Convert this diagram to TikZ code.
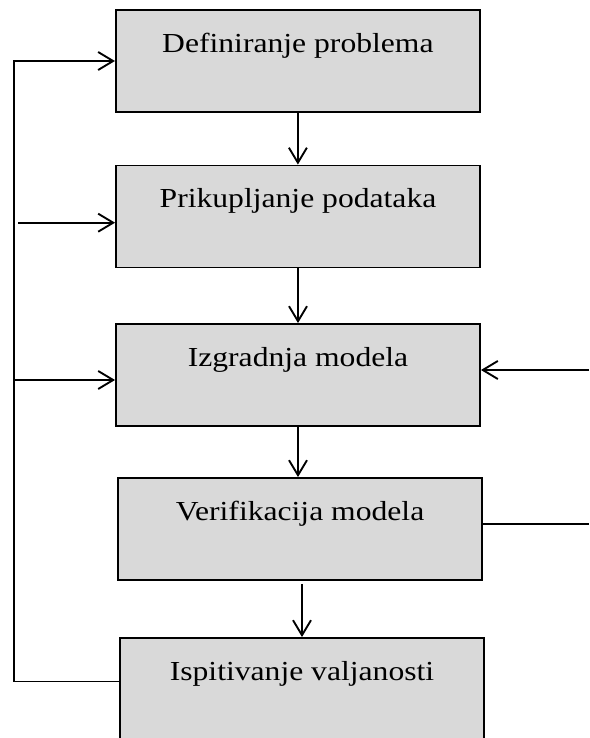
\documentclass[tikz,border=0pt]{standalone}
\usepackage{fontspec}
\setmainfont[FakeStretch=1.15]{Liberation Serif}
\usetikzlibrary{arrows.meta}
\definecolor{boxgray}{RGB}{217,217,217}
\begin{document}
\begin{tikzpicture}[x=1pt, y=-1pt, >={Straight Barb[length=15pt,width=18pt]},
      procbox/.style={draw, line width=1.9pt, fill=boxgray, inner sep=0pt, minimum width=364pt, minimum height=102pt},
      boxtext/.style={anchor=base, inner sep=0pt, font=\fontsize{27.5}{30}\selectfont},
      flowarr/.style={->, line width=1.9pt},
      plainline/.style={line width=1.3pt}]
    \useasboundingbox (0,0) rectangle (589,738);
    \clip (0,0) rectangle (589,738);
    \node[procbox] (b1) at (297.9,61)  {};
    \node[procbox] (b2) at (298,216.5) {};
    \node[procbox] (b3) at (298,375)   {};
    \node[procbox] (b4) at (300,529)   {};
    \node[procbox] (b5) at (302,689)   {};
    \node[boxtext] (t1) at ([yshift=-43pt]b1.north) {Definiranje problema};
    \node[boxtext] (t2) at ([yshift=-43pt]b2.north) {Prikupljanje podataka};
    \node[boxtext] (t3) at ([yshift=-43pt]b3.north) {Izgradnja modela};
    \node[boxtext] (t4) at ([yshift=-43pt]b4.north) {Verifikacija modela};
    \node[boxtext] (t5) at ([yshift=-43pt]b5.north) {Ispitivanje valjanosti};
    % feedback points
    \coordinate (lb) at (14,681.7);
    \coordinate (j2) at (18,222.7);
    \coordinate (j3) at (14,380);
    \coordinate (r3) at (589,370);
    \coordinate (r4) at (589,524);
    \draw[flowarr] (b1.south) -- (b1.south |- b2.north);
    \draw[flowarr] (b2.south) -- (b2.south |- b3.north);
    \draw[flowarr] (b3.south) -- (b3.south |- b4.north);
    \draw[flowarr] ([yshift=-3pt]b4.south -| b5.north) -- (b5.north);
    \draw[plainline] (lb -| b5.west) -- (lb);
    \draw[flowarr] (lb) |- (b1.west);
    \draw[flowarr] (j2) -- (j2 -| b2.west);
    \draw[flowarr] (j3) -- (j3 -| b3.west);
    \draw[flowarr] (r3) -- (r3 -| b3.east);
    \draw[plainline] (r4 -| b4.east) -- (r4);
  \end{tikzpicture}
\end{document}
